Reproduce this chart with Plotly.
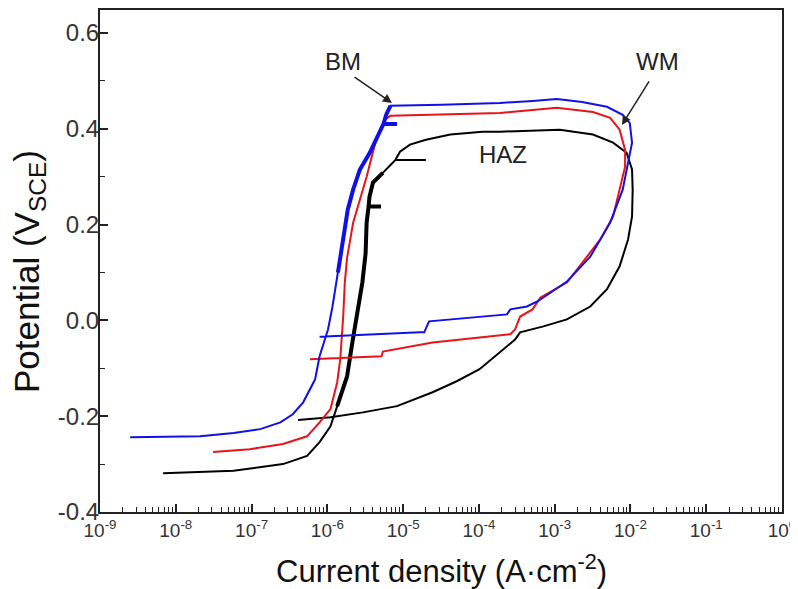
import plotly.graph_objects as go

# ---- data (current density A/cm^2, potential V_SCE) ----
bm_current = [2.5e-9, 2.1e-8, 5.8e-8, 1.3e-7, 2.4e-7, 3.5e-7, 4.8e-7, 5.9e-7, 6.9e-7, 7.9e-7,
              1.02e-6, 1.17e-6, 1.38e-6, 1.55e-6, 1.62e-6, 1.86e-6, 2.19e-6, 2.69e-6, 3.63e-6,
              4.9e-6, 5.5e-6, 8.3e-6, 5.5e-6, 6.0e-6, 6.8e-6,
              3.2e-5, 1.9e-4, 5.1e-4, 1.07e-3, 2.3e-3, 4.9e-3, 7.9e-3, 9.8e-3, 1.05e-2, 9.3e-3,
              7.9e-3, 5.4e-3, 2.95e-3, 1.45e-3, 6.0e-4, 4.3e-4, 2.6e-4, 2.35e-4, 4.6e-5, 2.2e-5,
              1.9e-5, 1.66e-5, 7.9e-7]
bm_potential = [-0.244, -0.242, -0.235, -0.227, -0.213, -0.196, -0.171, -0.144, -0.123, -0.075,
                -0.019, 0.029, 0.100, 0.148, 0.175, 0.231, 0.273, 0.315, 0.350,
                0.392, 0.410, 0.410, 0.410, 0.430, 0.448,
                0.450, 0.454, 0.458, 0.462, 0.456, 0.446, 0.429, 0.412, 0.371, 0.329,
                0.273, 0.204, 0.133, 0.081, 0.040, 0.029, 0.023, 0.0125, 0.002, -0.002,
                -0.025, -0.025, -0.034]

wm_current = [3.1e-8, 9.5e-8, 2.6e-7, 5.4e-7, 7.9e-7, 1.1e-6, 1.35e-6, 1.48e-6, 1.62e-6, 1.7e-6,
              1.82e-6, 2.19e-6, 3.3e-6, 4.3e-6, 5.75e-6, 6.8e-6,
              1.9e-4, 1.07e-3, 3.2e-3, 5.4e-3, 7.2e-3, 8.5e-3, 8.5e-3, 7.2e-3, 5.9e-3, 4.0e-3,
              2.3e-3, 1.45e-3, 6.5e-4, 5.1e-4, 3.5e-4, 3.0e-4, 2.6e-4, 2.45e-5, 5.4e-6, 5.2e-6,
              5.9e-7]
wm_potential = [-0.275, -0.269, -0.258, -0.242, -0.213, -0.185, -0.129, -0.081, 0.008, 0.079,
                0.130, 0.204, 0.300, 0.371, 0.419, 0.427,
                0.433, 0.444, 0.435, 0.423, 0.398, 0.356, 0.321, 0.273, 0.217, 0.169,
                0.121, 0.079, 0.048, 0.023, 0.008, -0.019, -0.029, -0.046, -0.065, -0.075,
                -0.081]

haz_current = [6.8e-9, 5.8e-8, 2.6e-7, 5.4e-7, 7.9e-7, 1.1e-6, 1.35e-6, 1.62e-6, 1.82e-6, 2.14e-6,
               2.45e-6, 2.9e-6, 3.2e-6, 3.3e-6, 3.5e-6, 5.1e-6, 3.5e-6, 3.6e-6, 4.0e-6, 5.4e-6,
               7.9e-6, 2.0e-5, 7.9e-6, 9.1e-6, 1.23e-5, 2.0e-5, 4.2e-5, 1.12e-4, 1.9e-4, 1.17e-3,
               3.2e-3, 5.9e-3, 8.9e-3, 1.05e-2, 1.07e-2, 1.05e-2, 9.3e-3, 7.2e-3, 4.9e-3, 2.95e-3,
               1.45e-3, 7.1e-4, 3.5e-4, 3.0e-4, 1.9e-4, 1.02e-4, 5.1e-5, 2.45e-5, 8.3e-6, 2.95e-6,
               1.1e-6, 4.1e-7]
haz_potential = [-0.319, -0.314, -0.300, -0.283, -0.254, -0.221, -0.179, -0.137, -0.117, -0.046,
                 0.008, 0.079, 0.140, 0.204, 0.238, 0.238, 0.238, 0.258, 0.288, 0.308,
                 0.335, 0.335, 0.335, 0.352, 0.367, 0.377, 0.388, 0.394, 0.394, 0.398,
                 0.388, 0.371, 0.350, 0.315, 0.273, 0.217, 0.169, 0.113, 0.065, 0.029,
                 0.002, -0.0125, -0.025, -0.040, -0.067, -0.102, -0.127, -0.150, -0.179, -0.192,
                 -0.202, -0.208]

x_tickvals = [1e-9, 1e-8, 1e-7, 1e-6, 1e-5, 1e-4, 1e-3, 1e-2, 1e-1, 1e0]
x_ticktext = ["10<sup>-9</sup>", "10<sup>-8</sup>", "10<sup>-7</sup>", "10<sup>-6</sup>",
              "10<sup>-5</sup>", "10<sup>-4</sup>", "10<sup>-3</sup>", "10<sup>-2</sup>",
              "10<sup>-1</sup>", "10<sup>0</sup>"]
x_minor = [m * d for d in x_tickvals[:-1] for m in range(2, 10)]
y_tickvals = [-0.4, -0.2, 0.0, 0.2, 0.4, 0.6]
y_ticktext = ["-0.4", "-0.2", "0.0", "0.2", "0.4", "0.6"]

x_title = "Current density (A·cm<sup>-2</sup>)"
y_title = "Potential (V<sub>SCE</sub>)"

FONT = "Liberation Sans, Arial, sans-serif"

fig = go.Figure()
# thick noisy passive regions
fig.add_trace(go.Scatter(x=haz_current[6:20], y=haz_potential[6:20], mode="lines",
                         line=dict(color="black", width=4), showlegend=False, hoverinfo="skip"))
fig.add_trace(go.Scatter(x=haz_current, y=haz_potential, mode="lines", name="HAZ",
                         line=dict(color="black", width=2), showlegend=False))
fig.add_trace(go.Scatter(x=wm_current, y=wm_potential, mode="lines", name="WM",
                         line=dict(color="#e8141a", width=2), showlegend=False))
fig.add_trace(go.Scatter(x=bm_current[12:25], y=bm_potential[12:25], mode="lines",
                         line=dict(color="#1010e8", width=4), showlegend=False, hoverinfo="skip"))
fig.add_trace(go.Scatter(x=bm_current, y=bm_potential, mode="lines", name="BM",
                         line=dict(color="#1010e8", width=2), showlegend=False))

tfont = dict(family=FONT, size=24, color="#222")
fig.add_annotation(x=-5.79, y=0.54, xref="x", yref="y", text="BM", showarrow=False, font=tfont)
fig.add_annotation(x=-1.637, y=0.54, xref="x", yref="y", text="WM", showarrow=False, font=tfont)
fig.add_annotation(x=-3.68, y=0.346, xref="x", yref="y", text="HAZ", showarrow=False, font=tfont)
fig.add_annotation(x=-5.147, y=0.454, ax=-5.66, ay=0.510, xref="x", yref="y", axref="x", ayref="y",
                   text="", showarrow=True, arrowhead=2, arrowsize=1.2, arrowwidth=1.5, arrowcolor="#222")
fig.add_annotation(x=-2.112, y=0.408, ax=-1.742, ay=0.502, xref="x", yref="y", axref="x", ayref="y",
                   text="", showarrow=True, arrowhead=2, arrowsize=1.2, arrowwidth=1.5, arrowcolor="#222")

# axis titles as annotations for exact placement
fig.add_annotation(x=0.5, y=0, xref="paper", yref="paper", yshift=-57, yanchor="middle",
                   text=x_title, showarrow=False, font=dict(family=FONT, size=31, color="#111"))
fig.add_annotation(x=0, y=0.5, xref="paper", yref="paper", xshift=-71, yshift=-11,
                   xanchor="center", yanchor="middle", textangle=-90,
                   text=y_title, showarrow=False, font=dict(family=FONT, size=35, color="#111"))

fig.update_xaxes(type="log", range=[-9, 0], tickmode="array", tickvals=x_tickvals, ticktext=x_ticktext,
                 ticks="inside", ticklen=8, tickwidth=1.5, tickcolor="#222", automargin=False,
                 ticklabeloverflow="allow",
                 minor=dict(tickmode="array", tickvals=x_minor, ticks="inside", ticklen=5,
                            tickwidth=1.2, tickcolor="#222", showgrid=False),
                 showline=True, linecolor="#222", linewidth=2, mirror=True, showgrid=False,
                 zeroline=False, tickfont=dict(family=FONT, size=19, color="#333"))
fig.update_yaxes(range=[-0.4, 0.648], tickmode="array", tickvals=y_tickvals, ticktext=y_ticktext,
                 ticks="inside", ticklen=8, tickwidth=1.5, tickcolor="#222", automargin=False,
                 ticklabelstandoff=-6, ticklabeloverflow="allow",
                 minor=dict(dtick=0.1, ticks="inside", ticklen=5, tickwidth=1.2, tickcolor="#222",
                            showgrid=False),
                 showline=True, linecolor="#222", linewidth=2, mirror=True, showgrid=False,
                 zeroline=False, tickfont=dict(family=FONT, size=24, color="#333"))

fig.update_layout(width=798, height=581, margin=dict(l=92, r=24, t=2, b=77),
                  plot_bgcolor="white", paper_bgcolor="white", showlegend=False)

fig.write_html("out.html")
